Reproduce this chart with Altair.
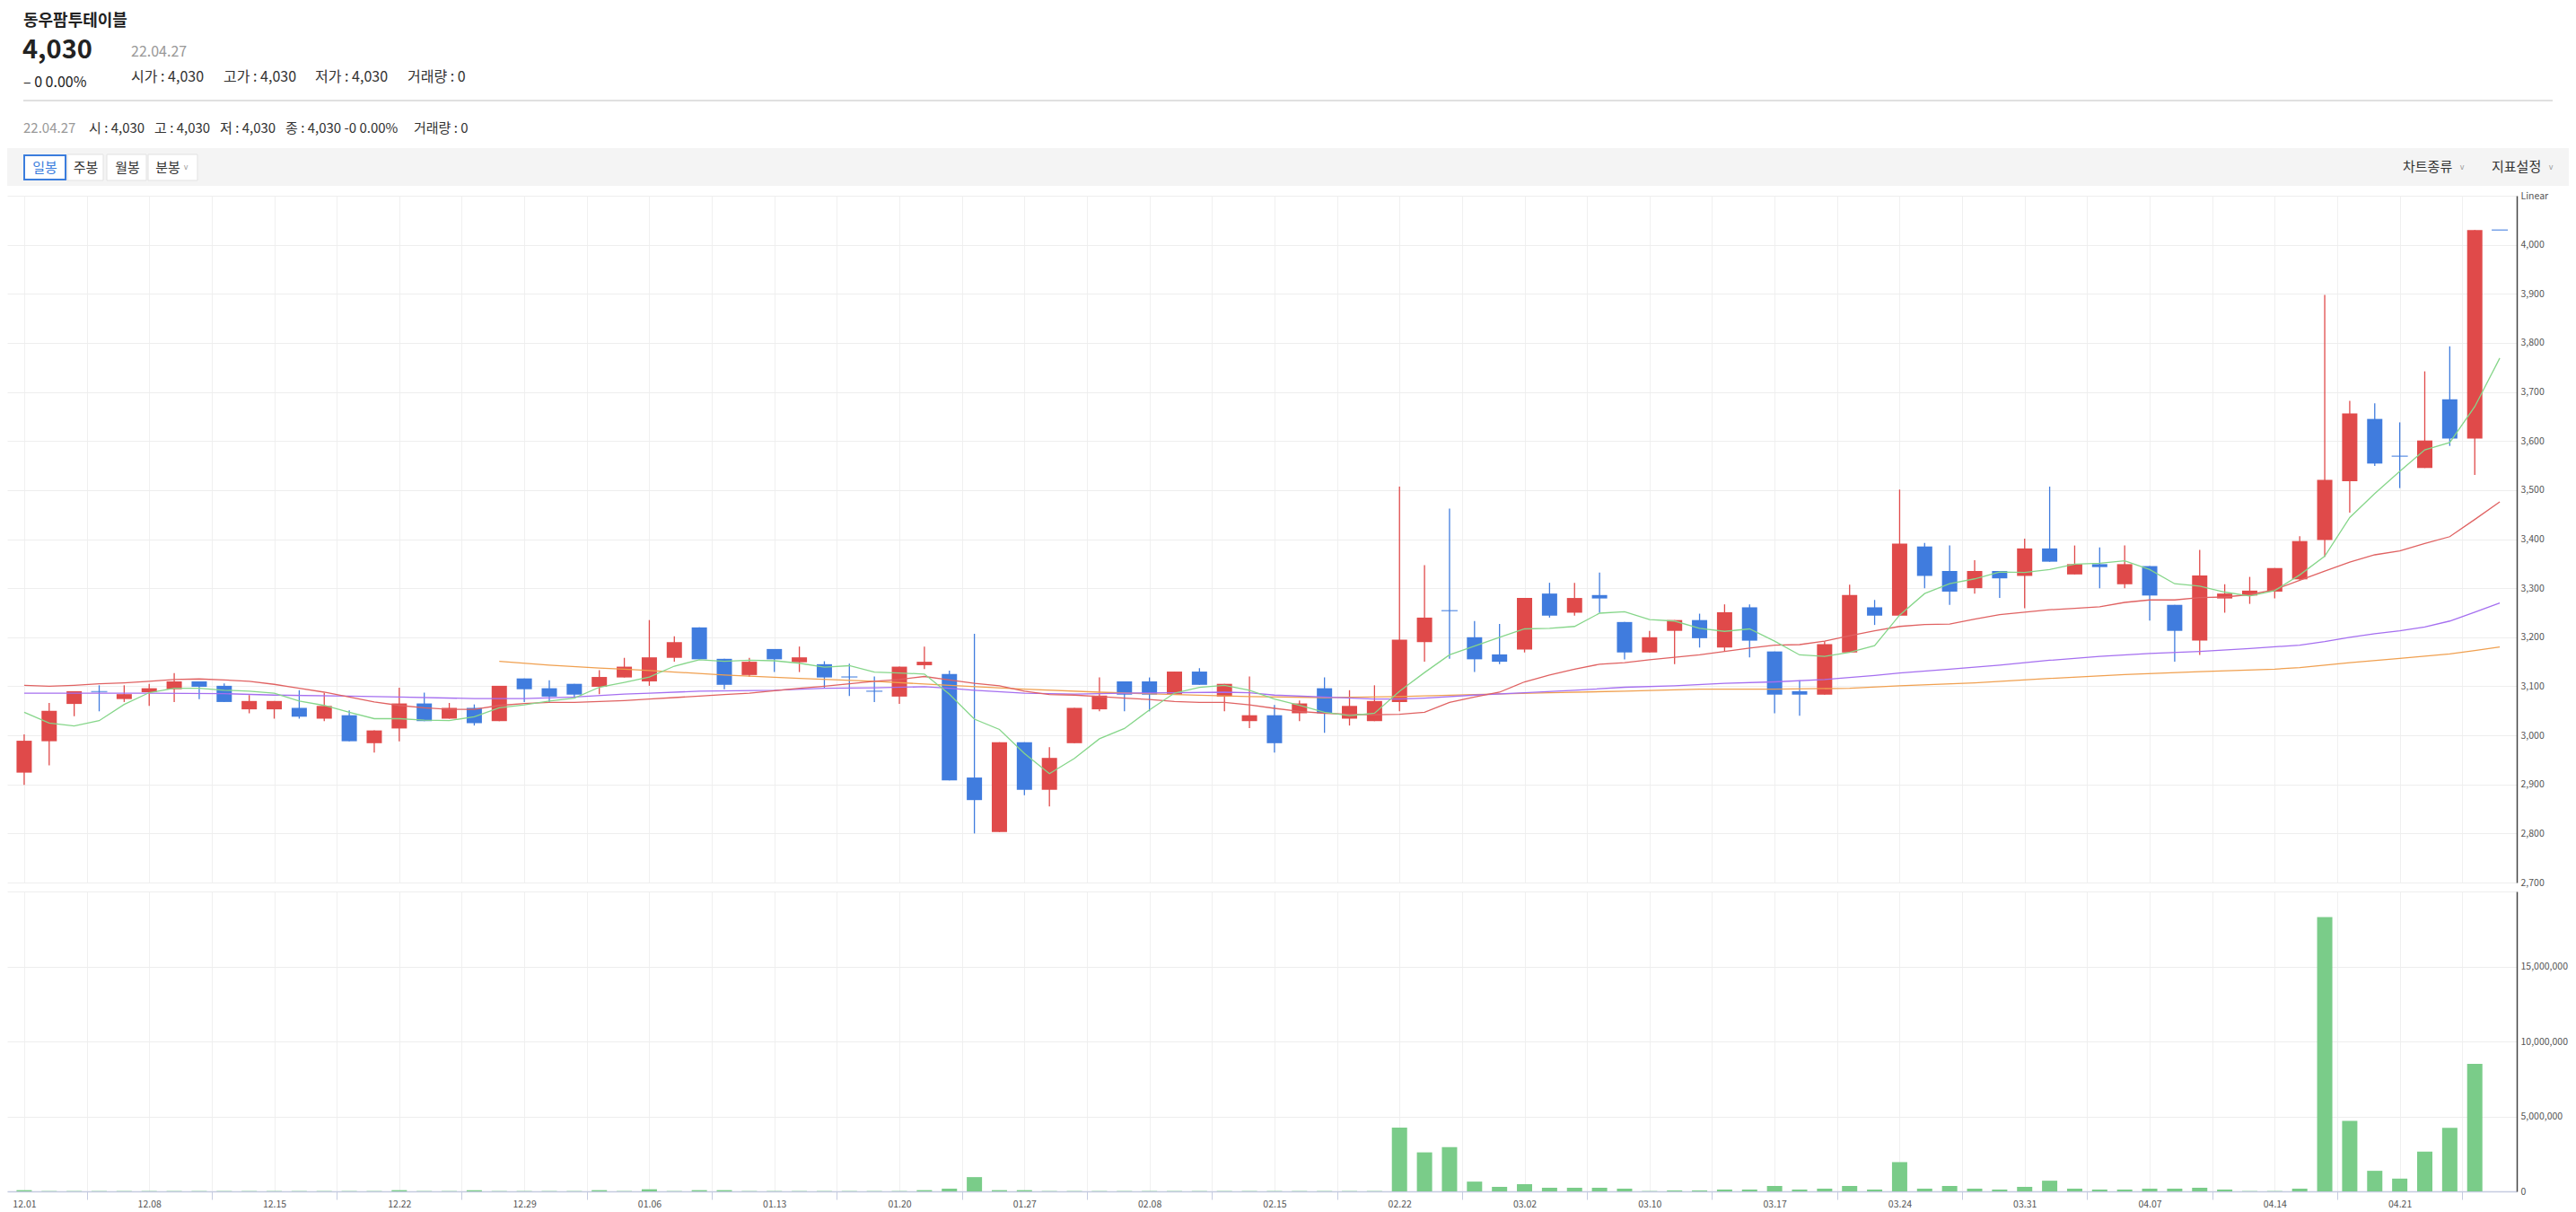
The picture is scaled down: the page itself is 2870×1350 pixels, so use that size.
import altair as alt
import pandas as pd

# ---------------- data ----------------
DATE_LABELS = ["12.01", "12.08", "12.15", "12.22", "12.29", "01.06", "01.13", "01.20",
               "01.27", "02.08", "02.15", "02.22", "03.02", "03.10", "03.17", "03.24",
               "03.31", "04.07", "04.14", "04.21"]

OPEN = [2924, 2988, 3064, 3089, 3074, 3088, 3094, 3110, 3101, 3053,
        3053, 3056, 3034, 3041, 2984, 3014, 3065, 3034, 3056, 3029,
        3116, 3096, 3105, 3099, 3118, 3110, 3158, 3220, 3156, 3123,
        3176, 3149, 3145, 3119, 3090, 3079, 3143, 3125, 2914, 2803,
        2986, 2889, 2984, 3053, 3110, 3110, 3083, 3130, 3079, 3029,
        3041, 3045, 3096, 3034, 3029, 3068, 3190, 3254, 3200, 3165,
        3175, 3289, 3250, 3286, 3231, 3169, 3213, 3235, 3179, 3261,
        3171, 3090, 3083, 3169, 3261, 3244, 3385, 3335, 3300, 3335,
        3325, 3381, 3328, 3349, 3308, 3345, 3266, 3193, 3279, 3285,
        3293, 3318, 3398, 3518, 3645, 3569, 3545, 3685, 3605, 4030]
HIGH = [3002, 3066, 3090, 3102, 3102, 3105, 3127, 3110, 3106, 3082,
        3070, 3092, 3086, 3051, 3010, 3097, 3087, 3066, 3063, 3101,
        3116, 3112, 3105, 3133, 3158, 3235, 3202, 3220, 3156, 3158,
        3176, 3181, 3151, 3146, 3120, 3140, 3181, 3132, 3207, 2986,
        2986, 2976, 3056, 3118, 3110, 3118, 3130, 3137, 3105, 3120,
        3062, 3071, 3118, 3092, 3102, 3507, 3347, 3462, 3233, 3227,
        3280, 3311, 3311, 3332, 3231, 3213, 3235, 3248, 3267, 3267,
        3171, 3112, 3192, 3307, 3276, 3501, 3392, 3387, 3357, 3335,
        3401, 3507, 3387, 3383, 3387, 3345, 3266, 3378, 3308, 3323,
        3341, 3406, 3898, 3682, 3677, 3638, 3742, 3793, 4030, 4030]
LOW = [2899, 2939, 3039, 3049, 3068, 3060, 3068, 3074, 3068, 3045,
       3034, 3034, 3029, 2988, 2965, 2988, 3029, 3034, 3020, 3029,
       3068, 3068, 3079, 3084, 3118, 3101, 3150, 3155, 3094, 3119,
       3129, 3129, 3096, 3080, 3068, 3064, 3135, 2908, 2800, 2803,
       2878, 2855, 2984, 3049, 3049, 3049, 3083, 3103, 3049, 3015,
       2965, 3029, 3005, 3020, 3029, 3049, 3150, 3156, 3129, 3145,
       3169, 3240, 3244, 3250, 3155, 3169, 3145, 3179, 3171, 3159,
       3045, 3040, 3083, 3169, 3225, 3244, 3300, 3266, 3289, 3280,
       3259, 3354, 3328, 3300, 3300, 3234, 3150, 3164, 3250, 3268,
       3279, 3315, 3364, 3454, 3549, 3504, 3545, 3590, 3531, 4030]
CLOSE = [2989, 3050, 3090, 3089, 3084, 3096, 3110, 3099, 3068, 3070,
         3070, 3038, 3060, 2988, 3010, 3065, 3029, 3056, 3025, 3101,
         3094, 3079, 3083, 3119, 3140, 3159, 3190, 3155, 3103, 3150,
         3155, 3159, 3118, 3119, 3090, 3140, 3150, 2908, 2868, 2986,
         2889, 2954, 3056, 3081, 3083, 3083, 3130, 3103, 3105, 3041,
         2984, 3065, 3045, 3060, 3070, 3195, 3240, 3254, 3155, 3150,
         3280, 3244, 3280, 3279, 3169, 3200, 3235, 3198, 3251, 3193,
         3083, 3083, 3186, 3286, 3244, 3391, 3325, 3293, 3335, 3320,
         3381, 3354, 3349, 3343, 3349, 3285, 3213, 3326, 3289, 3295,
         3341, 3396, 3521, 3656, 3554, 3569, 3601, 3605, 4030, 4030]
VOLUME = [80000, 20000, 20000, 20000, 20000, 20000, 20000, 20000, 20000, 20000,
          20000, 20000, 20000, 20000, 20000, 80000, 20000, 20000, 80000, 20000,
          20000, 20000, 20000, 80000, 20000, 140000, 20000, 80000, 80000, 20000,
          20000, 20000, 20000, 20000, 20000, 20000, 80000, 180000, 950000, 80000,
          80000, 20000, 20000, 20000, 20000, 20000, 20000, 20000, 20000, 20000,
          20000, 20000, 20000, 20000, 20000, 4250000, 2600000, 2950000, 650000, 300000,
          480000, 240000, 240000, 240000, 180000, 20000, 60000, 60000, 120000, 120000,
          360000, 120000, 180000, 360000, 120000, 1950000, 180000, 360000, 180000, 120000,
          300000, 710000, 180000, 120000, 120000, 180000, 180000, 240000, 120000, 20000,
          20000, 180000, 18300000, 4700000, 1370000, 850000, 2650000, 4230000, 8500000, 0]

MA5 = [3047, 3025, 3019, 3030, 3063, 3087, 3096, 3096, 3092, 3090,
       3086, 3070, 3061, 3047, 3034, 3034, 3031, 3030, 3038, 3056,
       3062, 3070, 3076, 3098, 3108, 3119, 3141, 3154, 3151, 3153,
       3152, 3147, 3139, 3142, 3129, 3127, 3125, 3084, 3033, 3012,
       2963, 2922, 2953, 2993, 3014, 3052, 3086, 3098, 3102, 3092,
       3074, 3061, 3047, 3040, 3045, 3090, 3128, 3164, 3182, 3200,
       3217, 3218, 3222, 3249, 3252, 3236, 3233, 3218, 3212, 3217,
       3192, 3164, 3161, 3169, 3183, 3245, 3289, 3309, 3319, 3333,
       3332, 3338, 3349, 3351, 3356, 3338, 3309, 3304, 3292, 3284,
       3295, 3327, 3365, 3444, 3493, 3538, 3582, 3597, 3670, 3769]
MA20 = [3102, 3100, 3102, 3105, 3107, 3110, 3114, 3115, 3113, 3110,
        3104, 3096, 3088, 3078, 3068, 3061, 3056, 3053, 3053, 3061,
        3065, 3067, 3067, 3069, 3071, 3074, 3077, 3080, 3083, 3086,
        3091, 3096, 3100, 3105, 3110, 3114, 3120, 3113, 3106, 3101,
        3090, 3083, 3082, 3079, 3076, 3073, 3069, 3067, 3067, 3062,
        3055, 3049, 3045, 3043, 3042, 3043, 3047, 3067, 3078, 3088,
        3109, 3123, 3135, 3145, 3148, 3154, 3159, 3164, 3171, 3178,
        3184, 3185, 3192, 3203, 3213, 3222, 3226, 3227, 3237, 3246,
        3251, 3256, 3259, 3262, 3271, 3276, 3276, 3281, 3282, 3287,
        3297, 3316, 3335, 3353, 3368, 3376, 3391, 3405, 3440, 3476]
MA60_IDX = [0, 5, 8, 10, 13, 15, 18, 20, 22, 24, 25, 27, 30, 32, 34, 36, 37, 38, 40, 42,
            44, 46, 48, 49, 50, 52, 54, 55, 56, 58, 60, 62, 64, 66, 68, 70, 72, 74, 75, 77,
            79, 81, 83, 85, 87, 89, 91, 92, 93, 94, 95, 96, 97, 98, 99]
MA60_VAL = [3086, 3086, 3085, 3082, 3080, 3078, 3075, 3075, 3078, 3084, 3086, 3090, 3092, 3096,
            3097, 3099, 3096, 3092, 3086, 3084, 3086, 3087, 3088, 3087, 3082, 3078, 3074, 3074,
            3076, 3082, 3087, 3092, 3098, 3101, 3106, 3109, 3114, 3122, 3127, 3135, 3143, 3153,
            3161, 3167, 3171, 3177, 3184, 3191, 3200, 3207, 3213, 3221, 3233, 3251, 3270]
MA120_IDX = [19, 21, 23, 24, 25, 28, 31, 34, 37, 40, 43, 46, 49, 52, 55, 58, 61, 64, 67, 70,
             73, 75, 78, 81, 84, 87, 90, 91, 92, 93, 95, 97, 98, 99]
MA120_VAL = [3151, 3143, 3137, 3135, 3132, 3123, 3116, 3110, 3102, 3094, 3088, 3083, 3079, 3077,
             3079, 3083, 3087, 3090, 3094, 3094, 3096, 3101, 3107, 3116, 3124, 3130, 3135, 3138,
             3143, 3148, 3157, 3166, 3173, 3180]

# ---------------- styling ----------------
FONT = "Noto Sans CJK KR"
RED = "#e04a4a"
BLUE = "#407cde"
VOL_GREEN = "#7acc89"
GRID = "#f0f0f0"
PLOT_W = 2796
PRICE_H = 765
VOL_H = 334

n = len(OPEN)
df = pd.DataFrame({"idx": list(range(n)), "open": OPEN, "high": HIGH, "low": LOW,
                   "close": CLOSE, "vol": VOLUME})
df["dir"] = ["up" if c > o else "down" for o, c in zip(OPEN, CLOSE)]

ma5_df = pd.DataFrame({"idx": list(range(n)), "val": MA5})
ma20_df = pd.DataFrame({"idx": list(range(n)), "val": MA20})
ma60_df = pd.DataFrame({"idx": MA60_IDX, "val": MA60_VAL})
ma120_df = pd.DataFrame({"idx": MA120_IDX, "val": MA120_VAL})

grid_vals = [i * 2.5 for i in range(40)]
xs = alt.Scale(domain=[-0.5, 99.5], nice=False, zero=False)
x_price = alt.X("idx:Q", scale=xs,
                axis=alt.Axis(values=grid_vals, labels=False, ticks=False, domain=False,
                              grid=True, gridColor=GRID, title=None))
ys = alt.Scale(domain=[2700, 4100], nice=False, zero=False)
price_axis = alt.Axis(orient="right", values=list(range(2700, 4101, 100)),
                      labelExpr="datum.value == 4100 ? 'Linear' : format(datum.value, ',')",
                      ticks=False, domainColor="#444", domainWidth=1.5, labelColor="#555",
                      labelFontSize=10.5, labelFont=FONT, labelPadding=4, grid=True,
                      gridColor="#eeeeee", title=None)
col = alt.Color("dir:N", scale=alt.Scale(domain=["up", "down"], range=[RED, BLUE]), legend=None)

wick = alt.Chart(df).mark_rule(strokeWidth=1.3).encode(
    x=x_price, y=alt.Y("low:Q", scale=ys, axis=price_axis), y2="high:Q", color=col)
body = alt.Chart(df).mark_bar(size=17).encode(
    x=x_price, y=alt.Y("open:Q", scale=ys, axis=price_axis), y2="close:Q", color=col)
doji = alt.Chart(df).transform_filter("datum.open == datum.close").mark_tick(
    orient="horizontal", size=18, thickness=1.5).encode(
    x=x_price, y=alt.Y("close:Q", scale=ys, axis=price_axis), color=col)


def ma_line(d, color):
    return alt.Chart(d).mark_line(strokeWidth=1.3, color=color).encode(
        x=x_price, y=alt.Y("val:Q", scale=ys, axis=price_axis))


price = alt.layer(
    wick, body, doji,
    ma_line(ma120_df, "#f0a050"),
    ma_line(ma60_df, "#a56ff0"),
    ma_line(ma20_df, "#e06262"),
    ma_line(ma5_df, "#86d68a"),
).properties(width=PLOT_W, height=PRICE_H)

lab_js = "[" + ",".join("'%s'" % s for s in DATE_LABELS) + "]"
x_vol = alt.X("idx:Q", scale=xs,
              axis=alt.Axis(values=grid_vals, title=None, grid=True, gridColor=GRID,
                            domainColor="#c5cbe0", domainWidth=1.5,
                            labelExpr="datum.value % 5 === 0 ? " + lab_js + "[datum.value / 5] : ''",
                            labelColor="#555", labelFontSize=10.5, labelFont=FONT,
                            labelOverlap=False, labelFlush=False, labelPadding=0,
                            tickSize=9, tickWidth=1,
                            tickColor={"condition": {"test": "datum.value % 5 === 0",
                                                     "value": "rgba(0,0,0,0)"},
                                       "value": "#c5cbe0"}))
volume = alt.Chart(df).mark_bar(size=17, color=VOL_GREEN).encode(
    x=x_vol,
    y=alt.Y("vol:Q", scale=alt.Scale(domain=[0, 20000000], nice=False),
            axis=alt.Axis(orient="right", values=[0, 5000000, 10000000, 15000000, 20000000],
                          labelExpr="datum.value >= 20000000 ? '' : format(datum.value, ',')",
                          ticks=False, domainColor="#444", domainWidth=1.5, labelColor="#555",
                          labelFontSize=10.5, labelFont=FONT, labelPadding=4, grid=True,
                          gridColor="#eeeeee", title=None)),
).properties(width=PLOT_W, height=VOL_H)

# ---------------- header (page decoration) ----------------
hd = pd.DataFrame({"k": [0]})


def txt(s, x, y, size, color="#222", weight="normal", align="left", font=FONT):
    return alt.Chart(hd).mark_text(text=s, align=align, baseline="middle", fontSize=size,
                                   fontWeight=weight, color=color, font=font).encode(
        x=alt.value(x), y=alt.value(y))


def box(x, x2, y, y2, fill, stroke=None, sw=1):
    kw = {"fill": fill}
    if stroke:
        kw["stroke"] = stroke
        kw["strokeWidth"] = sw
    return alt.Chart(hd).mark_rect(**kw).encode(
        x=alt.value(x), x2=alt.value(x2), y=alt.value(y), y2=alt.value(y2))


HW = 2854
header_items = [
    txt("동우팜투테이블", 18, 16, 18, weight="bold"),
    txt("4,030", 17, 48, 29, weight="bold"),
    txt("22.04.27", 138, 50, 16, color="#999"),
    txt("– 0 0.00%", 18, 84, 16),
    txt("시가 : 4,030", 138, 78, 16, color="#333"),
    txt("고가 : 4,030", 241, 78, 16, color="#333"),
    txt("저가 : 4,030", 343, 78, 16, color="#333"),
    txt("거래량 : 0", 446, 78, 16, color="#333"),
    alt.Chart(hd).mark_rule(color="#d6d6d6", strokeWidth=1.5).encode(
        x=alt.value(18), x2=alt.value(2836), y=alt.value(104)),
    txt("22.04.27", 18, 135, 15, color="#999"),
    txt("시 : 4,030", 91, 135, 15, color="#333"),
    txt("고 : 4,030", 164, 135, 15, color="#333"),
    txt("저 : 4,030", 237, 135, 15, color="#333"),
    txt("종 : 4,030 -0 0.00%", 310, 135, 15, color="#333"),
    txt("거래량 : 0", 453, 135, 15, color="#333"),
    box(0, HW, 157, 199, "#f4f4f4"),
    box(111, 155, 164, 193, "#ffffff", "#e2e2e2", 1),
    box(67, 107, 164, 193, "#ffffff", "#e2e2e2", 1),
    box(157, 212, 164, 193, "#ffffff", "#e2e2e2", 1),
    box(19, 65, 165, 192, "#ffffff", "#3b7ddd", 2),
    txt("일봉", 42, 178.5, 15, color="#3b7ddd", align="center"),
    txt("주봉", 87.5, 178.5, 15, color="#333", align="center"),
    txt("월봉", 134, 178.5, 15, color="#333", align="center"),
    txt("분봉", 179, 178.5, 15, color="#333", align="center"),
    txt("v", 199, 179, 8, color="#999", align="center", font="DejaVu Sans"),
    txt("차트종류", 2669, 178, 15, color="#333"),
    txt("v", 2735, 179, 8, color="#999", align="center", font="DejaVu Sans"),
    txt("지표설정", 2768, 178, 15, color="#333"),
    txt("v", 2834, 179, 8, color="#999", align="center", font="DejaVu Sans"),
]
header = alt.layer(*header_items).properties(width=HW, height=200)

chart = alt.vconcat(header, price, volume, spacing=10, bounds="flush").properties(
    padding={"left": 0, "top": 0, "right": 0, "bottom": 0}
).configure(font=FONT).configure_view(strokeWidth=0, stroke="transparent")

chart.save("out.html", embed_options={"renderer": "svg", "actions": False})
